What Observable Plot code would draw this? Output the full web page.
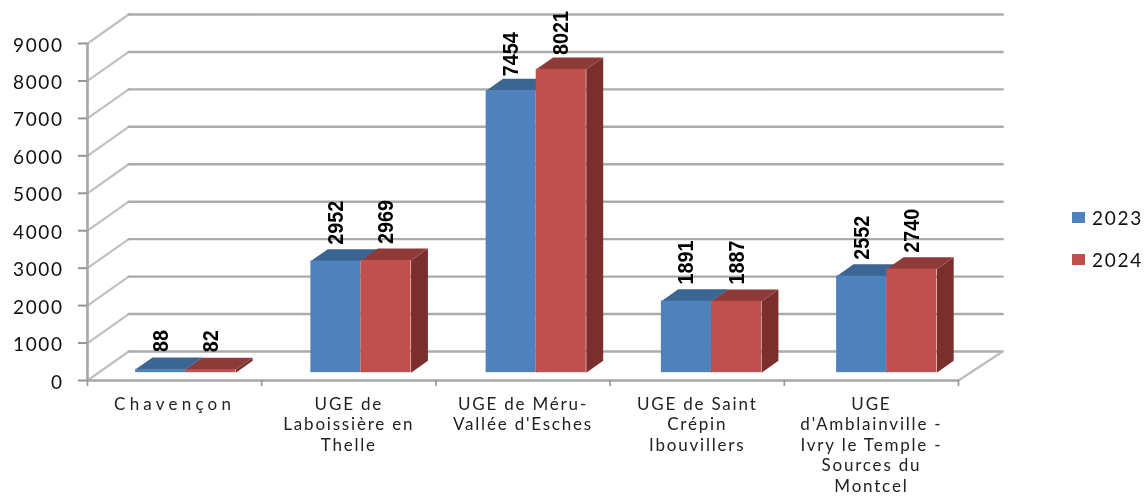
<!DOCTYPE html>
<html><head><meta charset="utf-8">
<script src="https://cdn.jsdelivr.net/npm/d3@7"></script>
<script src="https://cdn.jsdelivr.net/npm/@observablehq/plot@0.6"></script>
<style>
html,body{margin:0;padding:0;background:#fff;width:1148px;height:497px;overflow:hidden}
#wrap{position:relative;width:1148px;height:497px;filter:blur(0.5px)}
svg{display:block;font-family:Lato,sans-serif}
g[aria-label="y-axis tick label"]{letter-spacing:1.6px}
.catlab{letter-spacing:1.8px}
.catlab0{letter-spacing:4.2px}
.vallab{font-family:"Liberation Sans",Arial,sans-serif;font-weight:bold}
#legend{position:absolute;left:1072px;top:205px;font:19px Lato,sans-serif;letter-spacing:1.7px;color:#111}
#legend div{display:flex;align-items:center;height:24px;margin-bottom:18px}
#legend i{display:block;width:13px;height:11px;margin-right:7px}
</style></head><body>
<div id="wrap"><div id="chart"></div><div id="legend"></div></div>
<script>
const categories = ["Chavençon","UGE de\nLaboissière en\nThelle","UGE de Méru-\nVallée d'Esches","UGE de Saint\nCrépin\nIbouvillers","UGE\nd'Amblainville -\nIvry le Temple -\nSources du\nMontcel"];
const values2023 = [88,2952,7454,1891,2552];
const values2024 = [82,2969,8021,1887,2740];
const years = ["2023","2024"];
const yTicks = [0,1000,2000,3000,4000,5000,6000,7000,8000,9000];
const blues = {front:"#4f81bd",top:"#3b6592"};
const reds = {front:"#c0504d",top:"#8e3a38",side:"#7b2f2d"};

// oblique projection expressed in data units
const wallX = 0.2365, wallY = 775, wallEnd = 5.017;
const barW = 0.2875, barStart = 0.2125, barStep = 1.006, barScale = 1.01, dFront = 0.27, dBack = 0.68;
const px = (x,d) => x + d*wallX, py = (v,d) => v + d*wallY;

const slantPts = [], backPts = [];
yTicks.forEach(v => {
  slantPts.push({id:v,x:px(0,0),y:py(v,0)},{id:v,x:px(0,1),y:py(v,1)});
  backPts.push({id:v,x:px(0,1),y:py(v,1)},{id:v,x:px(wallEnd,1),y:py(v,1)});
});
const floorEdge = [{x:px(5,0),y:py(0,0)},{x:px(wallEnd,1),y:py(0,1)}];

function series(vals, s, col){
  const bars = vals.map((v,i)=>({v,h:v*barScale,x0:i*barStep+barStart+s*barW,x1:i*barStep+barStart+(s+1)*barW}));
  const faces = [];
  bars.forEach((b,i)=>{
    const add=(name,fill,pts)=>pts.concat([pts[0]]).forEach(p=>faces.push({id:s+name+i,fill,x:p[0],y:p[1]}));
    add("side",col.side||"#345a85",[[px(b.x1,dFront),py(0,dFront)],[px(b.x1,dBack),py(0,dBack)],[px(b.x1,dBack),py(b.h,dBack)],[px(b.x1,dFront),py(b.h,dFront)]]);
    add("top",col.top,[[px(b.x0,dFront),py(b.h,dFront)],[px(b.x1,dFront),py(b.h,dFront)],[px(b.x1,dBack),py(b.h,dBack)],[px(b.x0,dBack),py(b.h,dBack)]]);
  });
  return {bars,faces};
}
const s23 = series(values2023,0,blues), s24 = series(values2024,1,reds);
const faceMark = f => Plot.line(f,{x:"x",y:"y",z:"id",fill:"fill",stroke:null,curve:"linear"});
const barMark = (b,c) => Plot.rectY(b,{x1:d=>px(d.x0,dFront),x2:d=>px(d.x1,dFront),y1:()=>py(0,dFront),y2:d=>py(d.h,dFront),fill:c});
const labelMark = b => Plot.text(b,{x:d=>px((d.x0+d.x1)/2,dFront),y:d=>py(d.v,dBack),text:d=>String(d.v),rotate:-90,textAnchor:"start",lineAnchor:"middle",dy:-5.5,fontSize:22,fill:"#000",className:"vallab"});
const catMark = (data,offset,cls) => Plot.text(data,{x:(d,i)=>i+offset+0.5,y:()=>0,text:d=>d,dy:15,lineAnchor:"top",textAnchor:"middle",fontSize:17,lineHeight:1.2,fill:"#222",className:cls});

const chart = Plot.plot({
  width:1148,height:497,
  marginLeft:87,marginRight:190,marginTop:43,marginBottom:117,
  x:{type:"linear",domain:[0,5]},
  y:{type:"linear",domain:[0,9000]},
  color:{type:"identity"},
  marks:[
    Plot.line(slantPts,{x:"x",y:"y",z:"id",stroke:"#c0c0c0",strokeWidth:2.2,curve:"linear"}),
    Plot.line(backPts,{x:"x",y:"y",z:"id",stroke:"#ababab",strokeWidth:2.4,curve:"linear"}),
    Plot.line(floorEdge,{x:"x",y:"y",stroke:"#bdbdbd",strokeWidth:2.2}),
    faceMark(s23.faces),barMark(s23.bars,blues.front),
    faceMark(s24.faces),barMark(s24.bars,reds.front),
    labelMark(s23.bars),labelMark(s24.bars),
    Plot.ruleX([0],{y1:0,y2:9000,stroke:"#a6a6a6",strokeWidth:2.6}),
    Plot.ruleY([0],{x1:0,x2:5,stroke:"#a6a6a6",strokeWidth:2.6}),
    Plot.axisY({ticks:yTicks,tickSize:9,tickFormat:()=>"",label:null,stroke:"#959595",strokeWidth:2}),
    Plot.axisY({ticks:yTicks,tickSize:0,tickPadding:24,dy:2,tickFormat:d=>String(d),fontSize:19,label:null,fill:"#111"}),
    Plot.axisX({ticks:d3.range(0,6),tickSize:6,tickFormat:()=>"",label:null,stroke:"#959595",strokeWidth:1.6}),
    catMark(categories.slice(0,1),0,"catlab0"),
    catMark(categories.slice(1),1,"catlab")
  ]
});
// the reference's value labels are condensed: squeeze the glyphs along the reading direction
chart.querySelectorAll(".vallab text").forEach(t=>{
  t.setAttribute("textLength",t.textContent.length*11);
  t.setAttribute("lengthAdjust","spacingAndGlyphs");
});
document.getElementById("chart").append(chart);
const leg=document.getElementById("legend");
years.forEach((y,i)=>{const r=document.createElement("div");const sw=document.createElement("i");sw.style.background=[blues.front,reds.front][i];r.append(sw,y);leg.append(r);});
</script></body></html>
